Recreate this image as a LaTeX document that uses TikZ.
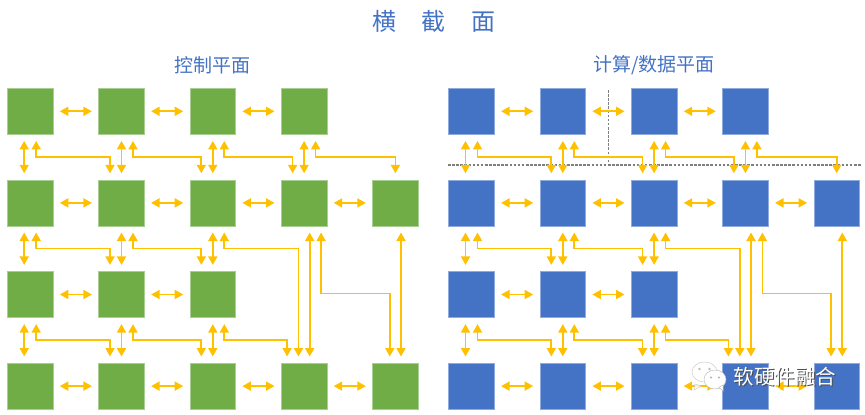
\documentclass[tikz,border=0pt]{standalone}
\usepackage{fontspec}
\setmainfont{Noto Sans CJK SC}
\usetikzlibrary{arrows.meta}
\definecolor{ctrlgreen}{HTML}{70AD47}
\definecolor{datablue}{HTML}{4472C4}
\definecolor{linkyellow}{HTML}{FFC000}
\definecolor{cutgray}{HTML}{7F7F7F}
\newcommand{\wmtext}{软硬件融合}
\tikzstyle{cutline} = [draw=cutgray, line width=1.4pt, dash pattern=on 2.6pt off 1.5pt]

\begin{document}
\begin{tikzpicture}[x=1pt, y=-1pt,
   tile/.style={rectangle, minimum size=45.8pt, inner sep=0pt, outer sep=6.7pt, line width=0.6pt},
   heading/.style={text=datablue, inner sep=0pt},
   transition/.style={{Triangle[width=9pt,length=8.5pt]}-{Triangle[width=9pt,length=8.5pt]},
      draw=linkyellow, line width=1.7pt},
   elbow/.style={to path={-- ++(0,#1) -| (\tikztotarget)}}, elbow/.default=16]
\useasboundingbox (0,0) rectangle (865,415);

\node[heading, font=\fontsize{24}{24}\selectfont] (title) at (434,21) {横\hspace{25.5pt}截\hspace{25.5pt}面};
\node[heading, font=\fontsize{19}{19}\selectfont] (ctrlplane) at (212,65) {控制平面};
\node[heading, font=\fontsize{19}{19}\selectfont] (dataplane) at (654,65) {计算/数据平面};

% tiles of both planes, named <plane><row><column>
\foreach \pl/\fillc/\edgec/\xo in {g/ctrlgreen/ctrlgreen!60/0, b/datablue/datablue!60/441.3}
  \foreach \r/\cols in {1/{1,2,3,4}, 2/{1,2,3,4,5}, 3/{1,2,3}, 4/{1,2,3,4,5}}
    \foreach \c in \cols
      \node[tile, fill=\fillc, draw=\edgec] (\pl\r\c) at ({\xo+30.2+(\c-1)*91.3}, {111.3+(\r-1)*91.6}) {};

% cut lines over the data plane
\coordinate (cutwest) at (448,165);
\coordinate (cuteast) at (861,165);
\coordinate (cuttop) at (608.5,90);
\coordinate (cutfoot) at (608.5,165);
\path[cutline] (cutwest) -- (cuteast);
\path[cutline] (cuttop) -- (cutfoot);

\foreach \pl in {g,b} {
  % neighbours in a row
  \foreach \ta/\tb in {11/12,12/13,13/14,21/22,22/23,23/24,24/25,31/32,32/33,41/42,42/43,43/44,44/45}
    \path (\pl\ta) edge[transition] (\pl\tb);
  % straight links between rows
  \foreach \ta/\tb/\sa in {11/21/-6,12/22/0,13/23/0,14/24/0,21/31/-6,22/32/0,23/33/0,
                           31/41/-6,32/42/0,33/43/0,24/44/5.6,25/45/5.6}
    \path ([xshift=\sa pt]\pl\ta.south) edge[transition] ([xshift=\sa pt]\pl\tb.north);
  % bent links between rows
  \foreach \ta/\tb/\sa/\sb in {11/22/6/-11.5,12/23/11.5/-11.5,13/24/11.5/-11.5,14/25/11.5/0,
                               21/32/6/-11.5,22/33/11.5/-11.5,23/44/11.5/-5.6,
                               31/42/6/-11.5,32/43/11.5/-11.5,33/44/11.5/-17}
    \path ([xshift=\sa pt]\pl\ta.south) edge[transition, elbow] ([xshift=\sb pt]\pl\tb.north);
  \path ([xshift=17pt]\pl24.south) edge[transition, elbow=61] ([xshift=-5.6pt]\pl45.north);
}

% account mark in the corner
\fill[white, fill opacity=0.8, draw=gray!40, line width=0.5pt] (704.5,372) ellipse (12.5pt and 10pt);
\fill[white, fill opacity=0.8, draw=gray!40, line width=0.5pt] (695,384) -- (694,390) -- (701,386) -- cycle;
\fill[gray!50] (699.5,369) circle (1.3pt) (709.5,369) circle (1.3pt);
\fill[white, draw=gray!50, line width=0.5pt] (715,379.5) ellipse (11pt and 9.5pt);
\fill[white, draw=gray!50, line width=0.5pt] (719,387.5) -- (723,391) -- (723,385) -- cycle;
\fill[gray!60] (711,377.5) circle (1.2pt) (719,377.5) circle (1.2pt);
\node[text=black!70, inner sep=0pt, font=\fontsize{20.5}{20.5}\selectfont] (markshade) at (786,378) {\wmtext};
\node[text=white, inner sep=0pt, font=\fontsize{20.5}{20.5}\selectfont] (mark) at (785,377) {\wmtext};

\end{tikzpicture}
\end{document}
